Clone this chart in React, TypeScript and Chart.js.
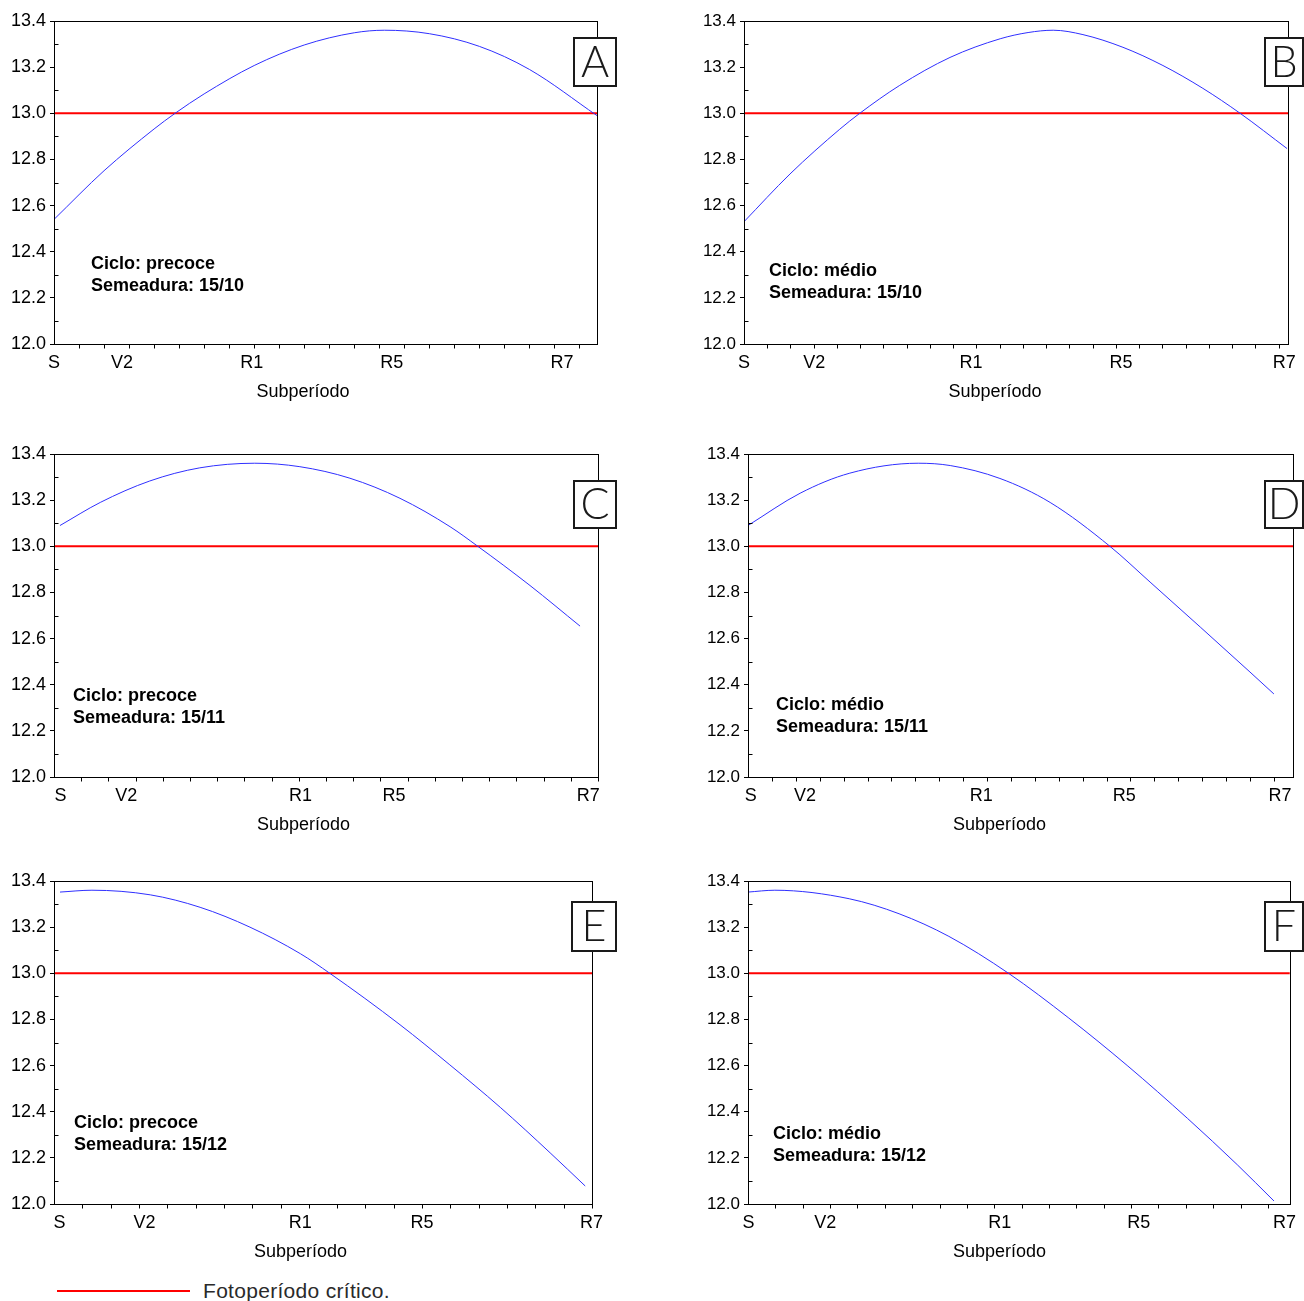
import React, { useEffect, useRef } from 'react';
import { Chart, registerables } from 'chart.js';

Chart.register(...registerables);

const FONT = '"Liberation Sans", Arial, Helvetica, sans-serif';

// ---- axis labels ----
const STAGE_LABELS = ['S', 'V2', 'R1', 'R5', 'R7'];
const Y_TICKS = [12.0, 12.2, 12.4, 12.6, 12.8, 13.0, 13.2, 13.4];
const Y_MINOR_TICKS = [12.1, 12.3, 12.5, 12.7, 12.9, 13.1, 13.3];
const X_MINOR_STEP = 5;
const Y_MIN = 12.0;
const Y_MAX = 13.4;
const CRITICAL_PHOTOPERIOD = 13.0;
const X_TITLE = 'Subperíodo';
const LEGEND_TEXT = 'Fotoperíodo crítico.';

// ---- panel A: precoce, 15/10 ----
const A_DAYS = [0, 10, 20, 24.2, 30, 40, 50, 60, 66, 75, 85, 95, 108.5];
const A_PHOTO = [12.54, 12.751, 12.932, 13.0, 13.084, 13.207, 13.296, 13.349, 13.36, 13.345, 13.29, 13.19, 12.99];
const A_STAGES = [0, 13.6, 39.5, 67.5, 101.5];
const A_MAX = 108.5;

// ---- panel B: médio, 15/10 ----
const B_DAYS = [0, 9.9, 20.6, 24.9, 33.5, 44.3, 55.1, 61.1, 66.5, 72.9, 81.5, 90.1, 98.7, 106.7, 116.8];
const B_PHOTO = [12.53, 12.737, 12.931, 13.0, 13.121, 13.242, 13.323, 13.35, 13.36, 13.341, 13.286, 13.207, 13.108, 13.0, 12.847];
const B_STAGES = [0, 15.1, 48.8, 81.1, 116.2];
const B_MAX = 117;

// ---- panel C: precoce, 15/11 ----
const C_DAYS = [1.1, 8.5, 17.6, 26.8, 36.9, 45.2, 54.4, 63.6, 72.8, 77.9, 87.5, 96.7];
const C_PHOTO = [13.09, 13.19, 13.283, 13.34, 13.36, 13.345, 13.295, 13.208, 13.085, 13.0, 12.83, 12.654];
const C_STAGES = [1.2, 13.3, 45.3, 62.5, 98.2];
const C_MAX = 100;

// ---- panel D: médio, 15/11 ----
const D_DAYS = [0, 10.9, 21.3, 35.6, 42.3, 52.7, 63.2, 75.7, 84.1, 94.6, 105.0, 110.0];
const D_PHOTO = [13.09, 13.23, 13.317, 13.36, 13.35, 13.294, 13.19, 13.0, 12.845, 12.65, 12.455, 12.36];
const D_STAGES = [0.6, 11.9, 48.8, 78.7, 111.3];
const D_MAX = 114;

// ---- panel E: precoce, 15/12 ----
const E_DAYS = [1.06, 6.7, 17.0, 25.8, 34.6, 43.5, 48.7, 61.1, 69.9, 78.8, 87.6, 93.8];
const E_PHOTO = [13.352, 13.36, 13.34, 13.286, 13.2, 13.085, 13.0, 12.777, 12.603, 12.419, 12.222, 12.078];
const E_STAGES = [0.95, 16.0, 43.5, 65.0, 94.9];
const E_MAX = 95;

// ---- panel F: médio, 15/12 ----
const F_DAYS = [0, 4.9, 18.5, 27.6, 36.7, 47.6, 58.5, 69.4, 80.3, 89.4, 96.1];
const F_PHOTO = [13.352, 13.36, 13.323, 13.258, 13.16, 13.0, 12.808, 12.598, 12.371, 12.17, 12.013];
const F_STAGES = [0.1, 14.1, 46.0, 71.4, 98.0];
const F_MAX = 99;

const LETTERS = ['A', 'B', 'C', 'D', 'E', 'F'];
const CYCLES = ['Ciclo: precoce', 'Ciclo: médio', 'Ciclo: precoce', 'Ciclo: médio', 'Ciclo: precoce', 'Ciclo: médio'];
const SOWINGS = ['Semeadura: 15/10', 'Semeadura: 15/10', 'Semeadura: 15/11', 'Semeadura: 15/11', 'Semeadura: 15/12', 'Semeadura: 15/12'];

const PANELS = [
  { days: A_DAYS, photo: A_PHOTO, stages: A_STAGES, max: A_MAX },
  { days: B_DAYS, photo: B_PHOTO, stages: B_STAGES, max: B_MAX },
  { days: C_DAYS, photo: C_PHOTO, stages: C_STAGES, max: C_MAX },
  { days: D_DAYS, photo: D_PHOTO, stages: D_STAGES, max: D_MAX },
  { days: E_DAYS, photo: E_PHOTO, stages: E_STAGES, max: E_MAX },
  { days: F_DAYS, photo: F_PHOTO, stages: F_STAGES, max: F_MAX },
].map((p, i) => ({ ...p, letter: LETTERS[i], cycle: CYCLES[i], sowing: SOWINGS[i] }));

// ---- layout (pixels, relative to each canvas) ----
const CANVAS_H = 410;
const LAYOUTS = [
  { left: 0, top: 0, width: 640, padL: 9, chartLeft: 54, chartRight: 597, yFont: 18, box: [573, 37, 44, 50], note: [91, 264] },
  { left: 690, top: 0, width: 614, padL: 12, chartLeft: 54, chartRight: 598, yFont: 17, box: [574, 37, 40, 50], note: [79, 271] },
  { left: 0, top: 433, width: 640, padL: 9, chartLeft: 54, chartRight: 598, yFont: 18, box: [573, 47, 44, 49], note: [73, 263] },
  { left: 690, top: 433, width: 614, padL: 16, chartLeft: 58, chartRight: 603, yFont: 17, box: [574, 47, 40, 49], note: [86, 272] },
  { left: 0, top: 860, width: 640, padL: 9, chartLeft: 54, chartRight: 592, yFont: 18, box: [571, 41, 46, 51], note: [74, 263] },
  { left: 690, top: 860, width: 614, padL: 16, chartLeft: 58, chartRight: 603, yFont: 17, box: [574, 41, 40, 51], note: [83, 274] },
];

function makeDecorPlugin(p: any, l: any) {
  return {
    id: 'panelDecor',
    afterDraw(chart: any) {
      const { ctx, chartArea: a, scales } = chart;
      const xs = scales.x;
      const ys = scales.y;
      ctx.save();
      ctx.strokeStyle = '#000';
      ctx.lineWidth = 1;
      const L = Math.round(a.left) + 0.5;
      const T = Math.round(a.top) + 0.5;
      const R = Math.round(a.right) + 0.5;
      const B = Math.round(a.bottom) + 0.5;
      ctx.strokeRect(L, T, R - L, B - T);
      ctx.beginPath();
      for (let d = X_MINOR_STEP; d <= p.max + 1e-6; d += X_MINOR_STEP) {
        const px = Math.round(xs.getPixelForValue(d)) + 0.5;
        ctx.moveTo(px, B);
        ctx.lineTo(px, B + 4);
      }
      for (const v of Y_MINOR_TICKS) {
        const py = Math.round(ys.getPixelForValue(v)) + 0.5;
        ctx.moveTo(L, py);
        ctx.lineTo(L + 4, py);
      }
      ctx.stroke();

      const [bx, by, bw, bh] = l.box;
      ctx.fillStyle = '#fff';
      ctx.fillRect(bx, by, bw, bh);
      ctx.lineWidth = 2;
      ctx.strokeStyle = '#1a1a1a';
      ctx.strokeRect(bx + 1, by + 1, bw - 2, bh - 2);
      ctx.fillStyle = '#1a1a1a';
      ctx.font = '300 43px Lato, "Liberation Sans", sans-serif';
      ctx.textAlign = 'center';
      ctx.textBaseline = 'middle';
      ctx.fillText(p.letter, bx + bw / 2, by + bh / 2 + 1);

      ctx.font = 'bold 18px ' + FONT;
      ctx.textAlign = 'left';
      ctx.fillStyle = '#000';
      ctx.fillText(p.cycle, l.note[0], l.note[1]);
      ctx.fillText(p.sowing, l.note[0], l.note[1] + 22);
      ctx.restore();
    },
  };
}

function Panel({ p, l }: { p: any; l: any }) {
  const ref = useRef<HTMLCanvasElement | null>(null);
  useEffect(() => {
    if (!ref.current) return;
    const chart = new Chart(ref.current, {
      type: 'line',
      data: {
        datasets: [
          {
            data: p.days.map((d: number, i: number) => ({ x: d, y: p.photo[i] })),
            borderColor: '#2f2fff',
            borderWidth: 1,
            pointRadius: 0,
            cubicInterpolationMode: 'monotone',
            fill: false,
          },
          {
            data: [
              { x: 0, y: CRITICAL_PHOTOPERIOD },
              { x: p.max, y: CRITICAL_PHOTOPERIOD },
            ],
            borderColor: '#ff0000',
            borderWidth: 2,
            pointRadius: 0,
            fill: false,
          },
        ],
      },
      options: {
        responsive: false,
        animation: false,
        devicePixelRatio: 1,
        events: [],
        layout: {
          padding: { left: l.padL, right: l.width - l.chartRight, top: 21, bottom: 3.4 },
        },
        plugins: {
          legend: { display: false },
          tooltip: { enabled: false },
          title: {
            display: true,
            text: X_TITLE,
            position: 'bottom',
            color: '#000',
            font: { family: FONT, size: 18, weight: 'normal' },
            padding: { top: 4, bottom: 4 },
          },
        },
        scales: {
          x: {
            type: 'linear',
            min: 0,
            max: p.max,
            afterBuildTicks: (s: any) => {
              s.ticks = p.stages.map((v: number) => ({ value: v }));
            },
            afterFit: (s: any) => {
              s.height = 33;
            },
            ticks: {
              autoSkip: false,
              maxRotation: 0,
              color: '#000',
              font: { family: FONT, size: 18 },
              padding: 8,
              callback: (_v: any, i: number) => STAGE_LABELS[i],
            },
            grid: { display: false, drawTicks: false, tickLength: 0 },
            border: { display: true, color: '#000', width: 1 },
          },
          y: {
            type: 'linear',
            min: Y_MIN,
            max: Y_MAX,
            afterBuildTicks: (s: any) => {
              s.ticks = Y_TICKS.map((v) => ({ value: v }));
            },
            afterFit: (s: any) => {
              s.width = l.chartLeft - l.padL;
            },
            ticks: {
              color: '#000',
              font: { family: FONT, size: l.yFont },
              padding: 4,
              callback: (v: any) => Number(v).toFixed(1),
            },
            grid: { drawOnChartArea: false, drawTicks: true, tickLength: 4, color: '#000', tickColor: '#000' },
            border: { display: true, color: '#000', width: 1 },
          },
        },
      } as any,
      plugins: [makeDecorPlugin(p, l)],
    } as any);
    return () => chart.destroy();
  }, []);
  return (
    <canvas
      ref={ref}
      width={l.width}
      height={CANVAS_H}
      style={{ position: 'absolute', left: l.left, top: l.top, width: l.width, height: CANVAS_H }}
    />
  );
}

export default function App() {
  return (
    <div
      style={{
        position: 'absolute',
        left: 0,
        top: 0,
        width: 1304,
        height: 1301,
        overflow: 'hidden',
        background: '#fff',
      }}
    >
      {PANELS.map((p, i) => (
        <Panel key={i} p={p} l={LAYOUTS[i]} />
      ))}
      <div style={{ position: 'absolute', left: 57, top: 1290, width: 133, height: 2, background: '#ff0000' }} />
      <div
        style={{
          position: 'absolute',
          left: 203,
          top: 1278,
          fontFamily: FONT,
          fontSize: 21,
          lineHeight: '26px',
          color: '#2a2a2a',
          letterSpacing: 0.3,
          whiteSpace: 'nowrap',
        }}
      >
        {LEGEND_TEXT}
      </div>
    </div>
  );
}
